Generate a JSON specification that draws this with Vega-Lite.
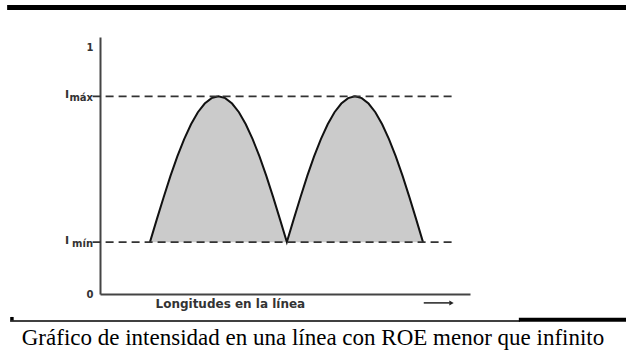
{
  "$schema": "https://vega.github.io/schema/vega-lite/v6.json",
  "width": 370,
  "height": 257,
  "autosize": {"type": "none"},
  "padding": {"left": 100, "top": 37, "right": 156, "bottom": 57},
  "background": "white",
  "config": {"view": {"stroke": null}},
  "datasets": {
    "curva": [
      {"longitud": 1.35, "I": 0.210}, {"longitud": 1.535, "I": 0.302}, {"longitud": 1.72, "I": 0.392},
      {"longitud": 1.905, "I": 0.478}, {"longitud": 2.09, "I": 0.557}, {"longitud": 2.275, "I": 0.627},
      {"longitud": 2.46, "I": 0.687}, {"longitud": 2.645, "I": 0.736}, {"longitud": 2.83, "I": 0.771},
      {"longitud": 3.015, "I": 0.793}, {"longitud": 3.2, "I": 0.800}, {"longitud": 3.385, "I": 0.793},
      {"longitud": 3.57, "I": 0.771}, {"longitud": 3.755, "I": 0.736}, {"longitud": 3.94, "I": 0.687},
      {"longitud": 4.125, "I": 0.627}, {"longitud": 4.31, "I": 0.557}, {"longitud": 4.495, "I": 0.478},
      {"longitud": 4.68, "I": 0.392}, {"longitud": 4.865, "I": 0.302}, {"longitud": 5.05, "I": 0.210},
      {"longitud": 5.234, "I": 0.302}, {"longitud": 5.418, "I": 0.392}, {"longitud": 5.602, "I": 0.478},
      {"longitud": 5.786, "I": 0.557}, {"longitud": 5.97, "I": 0.627}, {"longitud": 6.154, "I": 0.687},
      {"longitud": 6.338, "I": 0.736}, {"longitud": 6.522, "I": 0.771}, {"longitud": 6.706, "I": 0.793},
      {"longitud": 6.89, "I": 0.800}, {"longitud": 7.074, "I": 0.793}, {"longitud": 7.258, "I": 0.771},
      {"longitud": 7.442, "I": 0.736}, {"longitud": 7.626, "I": 0.687}, {"longitud": 7.81, "I": 0.627},
      {"longitud": 7.994, "I": 0.557}, {"longitud": 8.178, "I": 0.478}, {"longitud": 8.362, "I": 0.392},
      {"longitud": 8.546, "I": 0.302}, {"longitud": 8.73, "I": 0.210}
    ],
    "niveles": [
      {"nivel": "máx", "I": 0.80},
      {"nivel": "mín", "I": 0.21}
    ],
    "uno": [{"n": 1}]
  },
  "layer": [
    {
      "data": {"name": "curva"},
      "mark": {"type": "area", "color": "#cbcbcb", "opacity": 1},
      "encoding": {
        "x": {"field": "longitud", "type": "quantitative", "scale": {"domain": [0, 10], "nice": false, "zero": false},
          "axis": {"domain": true, "domainColor": "#444", "domainWidth": 2, "ticks": false, "labels": false, "grid": false,
            "title": "Longitudes en la línea", "titleFont": "DejaVu Sans", "titleFontSize": 12, "titleFontWeight": "bold",
            "titleColor": "#333", "titleAnchor": "start", "titleAlign": "left", "titleX": 55, "titleY": 9, "titleBaseline": "middle"}},
        "y": {"field": "I", "type": "quantitative", "scale": {"domain": [0, 1.0405], "nice": false},
          "axis": {"domain": true, "domainColor": "#444", "domainWidth": 2, "ticks": false, "grid": false, "values": [0, 1], "format": "d",
            "labelFont": "DejaVu Sans", "labelFontSize": 10, "labelFontWeight": "bold", "labelColor": "#333", "labelPadding": 7, "title": null}},
        "y2": {"datum": 0.21}
      }
    },
    {
      "data": {"name": "curva"},
      "mark": {"type": "line", "color": "#111", "strokeWidth": 2},
      "encoding": {
        "x": {"field": "longitud", "type": "quantitative"},
        "y": {"field": "I", "type": "quantitative"}
      }
    },
    {
      "data": {"name": "niveles"},
      "mark": {"type": "rule", "color": "#333", "strokeWidth": 1.6, "strokeDash": [8, 5]},
      "encoding": {
        "x": {"datum": -0.2},
        "x2": {"datum": 9.6},
        "y": {"field": "I", "type": "quantitative"}
      }
    },
    {
      "data": {"name": "niveles"},
      "mark": {"type": "text", "text": "I", "font": "DejaVu Sans", "fontSize": 11, "fontWeight": "bold", "color": "#333", "align": "center", "baseline": "middle", "dx": -33, "dy": -1},
      "encoding": {
        "x": {"datum": 0},
        "y": {"field": "I", "type": "quantitative"}
      }
    },
    {
      "data": {"name": "niveles"},
      "mark": {"type": "text", "font": "DejaVu Sans", "fontSize": 10, "fontWeight": "bold", "color": "#333", "align": "right", "baseline": "middle", "dx": -7, "dy": 2},
      "encoding": {
        "x": {"datum": 0},
        "y": {"field": "I", "type": "quantitative"},
        "text": {"field": "nivel"}
      }
    },
    {
      "data": {"name": "uno"},
      "mark": {"type": "rule", "color": "#222", "strokeWidth": 1.5},
      "encoding": {
        "x": {"datum": 8.75},
        "x2": {"datum": 9.45},
        "y": {"datum": -0.036}
      }
    },
    {
      "data": {"name": "uno"},
      "mark": {"type": "point", "shape": "triangle-right", "filled": true, "color": "#222", "size": 25, "opacity": 1},
      "encoding": {
        "x": {"datum": 9.5},
        "y": {"datum": -0.036}
      }
    },
    {
      "data": {"name": "uno"},
      "mark": {"type": "rule", "color": "black", "strokeWidth": 5},
      "encoding": {
        "x": {"datum": -2.51},
        "x2": {"datum": 14.22},
        "y": {"datum": 1.160}
      }
    },
    {
      "data": {"name": "uno"},
      "mark": {"type": "rule", "color": "black", "strokeWidth": 1.5},
      "encoding": {
        "x": {"datum": -2.43},
        "x2": {"datum": 11.35},
        "y": {"datum": -0.109}
      }
    },
    {
      "data": {"name": "uno"},
      "mark": {"type": "rule", "color": "black", "strokeWidth": 4},
      "encoding": {
        "x": {"datum": 11.32},
        "x2": {"datum": 14.22},
        "y": {"datum": -0.104}
      }
    },
    {
      "data": {"name": "uno"},
      "mark": {"type": "square", "filled": true, "color": "black", "size": 12, "opacity": 1},
      "encoding": {
        "x": {"datum": -2.38},
        "y": {"datum": -0.1}
      }
    },
    {
      "data": {"name": "uno"},
      "mark": {"type": "text", "text": "Gráfico de intensidad en una línea con ROE menor que infinito", "font": "Liberation Serif", "fontSize": 23, "color": "black", "align": "center", "baseline": "alphabetic"},
      "encoding": {
        "x": {"datum": 5.757},
        "y": {"datum": -0.2065}
      }
    }
  ]
}
